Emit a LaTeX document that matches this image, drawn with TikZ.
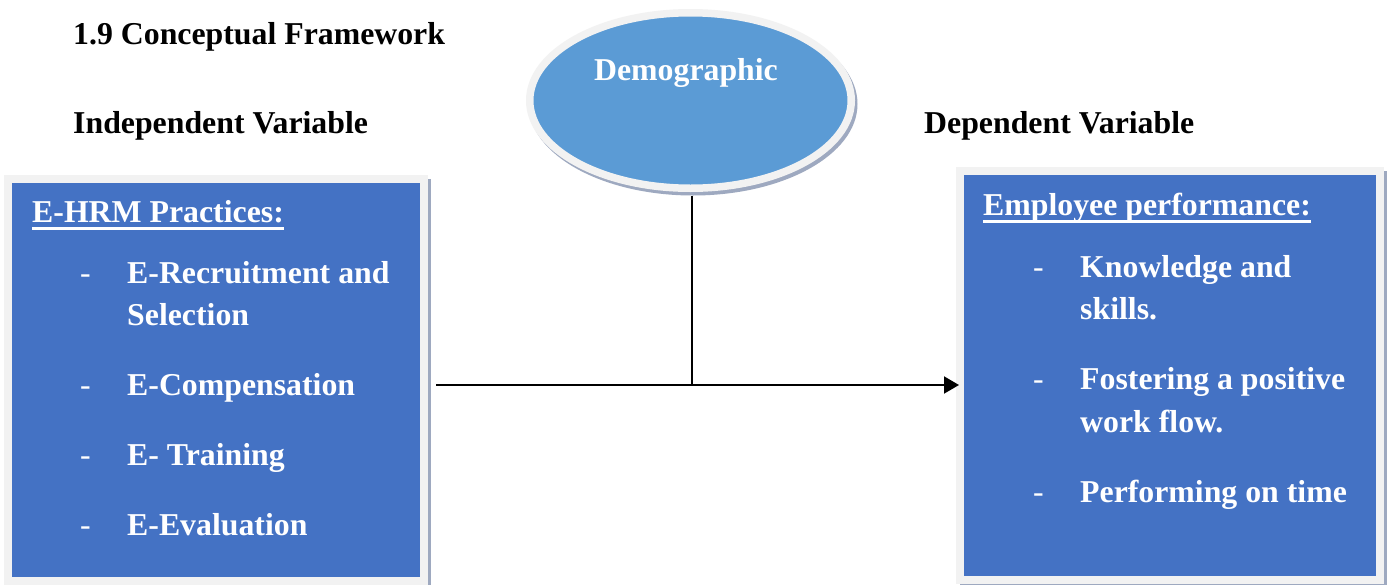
\documentclass[tikz,border=0pt]{standalone}
\usepackage{fontspec}
\setmainfont{Liberation Serif}
\usetikzlibrary{shapes.geometric,arrows.meta}

\definecolor{boxblue}{HTML}{4472C4}
\definecolor{ovalblue}{HTML}{5B9BD5}
\definecolor{rimgray}{HTML}{F2F2F2}
\definecolor{shadowblue}{HTML}{9EA9C0}

\tikzset{
  bigtext/.style={font=\fontsize{31.8}{38}\selectfont\bfseries, inner sep=0pt, anchor=base west},
  boxtext/.style={bigtext, text=white},
  dashmark/.style={font=\fontsize{31.8}{38}\selectfont, text=white, inner sep=0pt, anchor=base west},
  panel/.style={rectangle, fill=boxblue, draw=rimgray, line width=8pt, inner sep=0pt},
  panelshadow/.style={fill=shadowblue},
  link/.style={line width=2pt, black},
  headrule/.style={white, line width=2.6pt},
}

\begin{document}
\begin{tikzpicture}[x=1pt,y=-1pt]
\useasboundingbox[fill=white] (0,0) rectangle (1387,584);

% headings
\node[bigtext] (title) at (73,44) {1.9 Conceptual Framework};
\node[bigtext] (indlabel) at (73,133) {Independent Variable};
\node[bigtext] (deplabel) at (924,133) {Dependent Variable};

% demographic oval with its shadow
\fill[shadowblue] (693,104) ellipse [x radius=164.5, y radius=91.5];
\node[ellipse, fill=ovalblue, draw=rimgray, line width=7.5pt,
      minimum width=321.5pt, minimum height=175.5pt, inner sep=0pt]
      (demo) at (690.5,100.5) {};
\node[boxtext, anchor=base] (demotext) at (686,80) {Demographic};

% independent variable panel
\fill[panelshadow] (7,179) rectangle (431,590);
\node[panel, minimum width=416pt, minimum height=402pt] (ind) at (216,380) {};

% dependent variable panel
\fill[panelshadow] (960,171) rectangle (1387,590);
\node[panel, minimum width=420pt, minimum height=409pt] (dep) at (1170,375.5) {};

% panel contents: independent
\node[boxtext] (ihead) at (32,222) {E-HRM Practices:};
\draw[headrule] ([yshift=-6.5pt]ihead.base west) -- ([yshift=-6.5pt]ihead.base east);
\node[dashmark] (d1) at (80,283) {-};
\node[boxtext] (i1a) at (127,283) {E-Recruitment and};
\node[boxtext] (i1b) at (127,325) {Selection};
\node[dashmark] (d2) at (80,395) {-};
\node[boxtext] (i2) at (127,395) {E-Compensation};
\node[dashmark] (d3) at (80,465) {-};
\node[boxtext] (i3) at (127,465) {E- Training};
\node[dashmark] (d4) at (80,535) {-};
\node[boxtext] (i4) at (127,535) {E-Evaluation};

% panel contents: dependent
\node[boxtext] (dhead) at (983,215) {Employee performance:};
\draw[headrule] ([yshift=-6.5pt]dhead.base west) -- ([yshift=-6.5pt]dhead.base east);
\node[dashmark] (e1) at (1033,277) {-};
\node[boxtext] (p1a) at (1080,277) {Knowledge and};
\node[boxtext] (p1b) at (1080,319) {skills.};
\node[dashmark] (e2) at (1033,389) {-};
\node[boxtext] (p2a) at (1080,389) {Fostering a positive};
\node[boxtext] (p2b) at (1080,432) {work flow.};
\node[dashmark] (e3) at (1033,502) {-};
\node[boxtext] (p3) at (1080,502) {Performing on time};

% connectors
\coordinate (start) at ([xshift=8pt]ind.east |- 0,385);
\coordinate (end) at ([xshift=3pt]dep.west |- 0,385);
\coordinate (j) at (692,385);
\draw[link, -{Triangle[length=15pt, width=17pt]}] (start) -- (end);
\draw[link] (j |- 0,196) -- (j);
\end{tikzpicture}
\end{document}
